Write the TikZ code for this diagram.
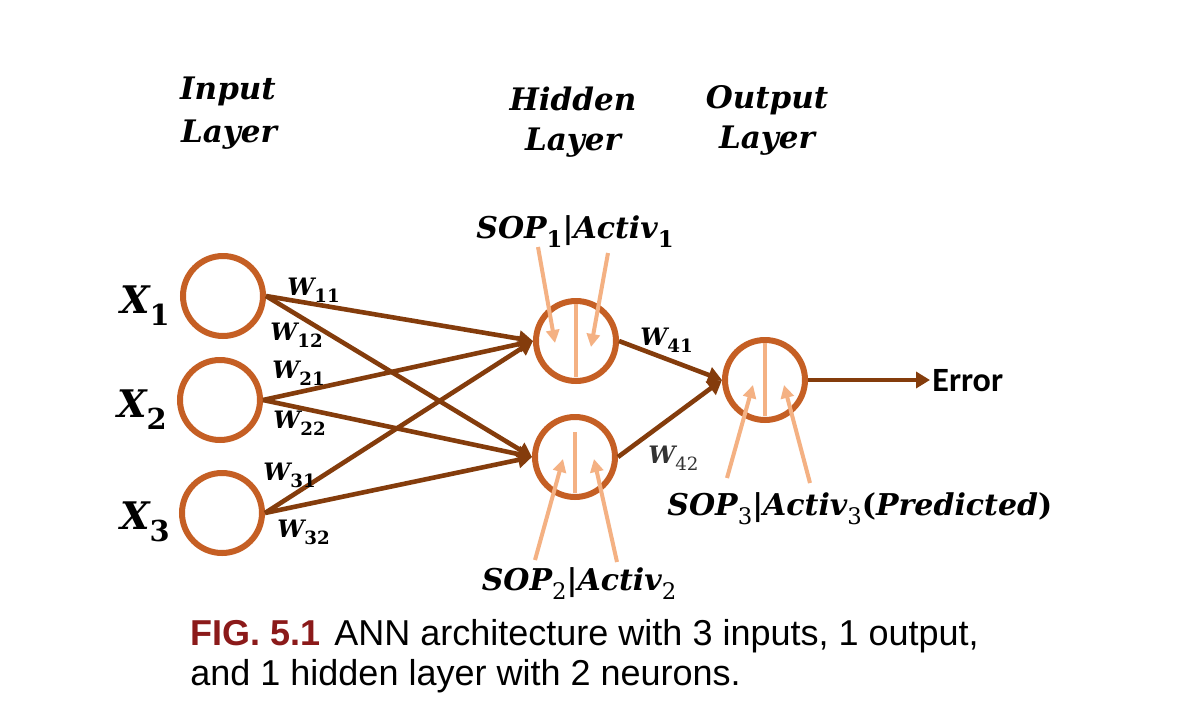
\documentclass[tikz,border=0pt]{standalone}
\usepackage{fontspec}
\setmainfont{Liberation Sans}
\newfontfamily\labfont{DejaVu Serif}
\newfontfamily\errfont{Carlito}
\usetikzlibrary{arrows.meta,calc}
\definecolor{ring}{HTML}{C55F24}
\definecolor{wire}{HTML}{843C0C}
\definecolor{soft}{HTML}{F4B183}
\definecolor{figred}{HTML}{8B1A1A}
\newcommand{\lsub}[1]{\raisebox{-0.33em}{\scalebox{0.76}{#1}}}
\begin{document}
\begin{tikzpicture}[x=0.5pt,y=-0.5pt,
  neuron/.style={circle, draw=ring, line width=3pt, minimum size=40pt, inner sep=0pt},
  wirearrow/.style={draw=wire, line width=2.3pt, -{Triangle[length=7pt,width=8pt]}},
  softarrow/.style={draw=soft, line width=2pt, -{Triangle[length=6.5pt,width=6.5pt]}},
  softline/.style={draw=soft, line width=2pt},
  ttl/.style={inner sep=0pt, font=\labfont\bfseries\itshape\fontsize{15.5}{18}\selectfont},
  xlab/.style={inner sep=0pt, font=\labfont\bfseries\itshape\fontsize{19}{22}\selectfont},
  wlab/.style={inner sep=0pt, font=\labfont\bfseries\itshape\fontsize{12}{14}\selectfont},
  soplab/.style={inner sep=0pt, font=\labfont\bfseries\itshape\fontsize{15}{18}\selectfont},
  caption/.style={inner sep=0pt, font=\fontsize{18}{22}\selectfont}]
\useasboundingbox[fill=white] (0,0) rectangle (1178,718);

% titles
\node[ttl, anchor=base] (t1a) at (228,99) {Input};
\node[ttl, anchor=base] (t1b) at (229,142) {Layer};
\node[ttl, anchor=base] (t2a) at (573,110) {Hidden};
\node[ttl, anchor=base] (t2b) at (573,150) {Layer};
\node[ttl, anchor=base] (t3a) at (767,108) {Output};
\node[ttl, anchor=base] (t3b) at (767,148) {Layer};

% neurons
\node[neuron] (x1) at (223,296) {};
\node[neuron] (x2) at (220,400) {};
\node[neuron] (x3) at (222,513) {};
\node[neuron] (h1) at (576,341) {};
\node[neuron] (h2) at (575,457) {};
\node[neuron] (o)  at (765,380) {};

% input labels
\node[xlab, anchor=base east] (lx1) at (170,313) {X\lsub{\upshape 1}};
\node[xlab, anchor=base east] (lx2) at (167,417) {X\lsub{\upshape 2}};
\node[xlab, anchor=base east] (lx3) at (170,529) {X\lsub{\upshape 3}};

% inner vertical lines
\draw[softline] ($(h1.center)+(0,-37)$) -- ($(h1.center)+(0,36)$);
\draw[softline] ($(h2.center)+(0,-25)$) -- ($(h2.center)+(0,36)$);
\draw[softline] ($(o.center)+(0,-37)$) -- ($(o.center)+(0,36)$);

% weighted connections
\draw[wirearrow] (x1.east) -- (h1.west);
\draw[wirearrow] (x1.east) -- (h2.west);
\draw[wirearrow] (x2.east) -- (h1.west);
\draw[wirearrow] (x2.east) -- (h2.west);
\draw[wirearrow] (x3.east) -- (h1.west);
\draw[wirearrow] (x3.east) -- (h2.west);
\draw[wirearrow] (h1.east) -- (o.west);
\draw[wirearrow] (h2.east) -- (o.west);

% error output
\coordinate (errtip) at (930,380);
\draw[wirearrow] (o.east) -- (errtip);
\node[inner sep=0pt, anchor=base west, font=\errfont\bfseries\fontsize{17}{20}\selectfont] (err) at (932,391) {Error};

% weight labels
\node[wlab, anchor=base west] (w11) at (287,295) {W\lsub{\upshape 11}};
\node[wlab, anchor=base west] (w12) at (270,340) {W\lsub{\upshape 12}};
\node[wlab, anchor=base west] (w21) at (272,378) {W\lsub{\upshape 21}};
\node[wlab, anchor=base west] (w22) at (273,428) {W\lsub{\upshape 22}};
\node[wlab, anchor=base west] (w31) at (263,480) {W\lsub{\upshape 31}};
\node[wlab, anchor=base west] (w32) at (277,537) {W\lsub{\upshape 32}};
\node[wlab, anchor=base west] (w41) at (640,345) {W\lsub{\upshape 41}};
\node[wlab, anchor=base west, text=black!80] (w42) at (648,463) {W\lsub{\upshape\mdseries 42}};

% SOP / activation arrows
\coordinate (a1l) at (538,247); \coordinate (b1l) at (555,343);
\coordinate (a1r) at (608,253); \coordinate (b1r) at (591,347);
\coordinate (a2l) at (535,560); \coordinate (b2l) at (563,459);
\coordinate (a2r) at (617,562); \coordinate (b2r) at (594,459);
\coordinate (a3l) at (727,478); \coordinate (b3l) at (753,385);
\coordinate (a3r) at (810,483); \coordinate (b3r) at (784,385);
\draw[softarrow] (a1l) -- (b1l);
\draw[softarrow] (a1r) -- (b1r);
\draw[softarrow] (a2l) -- (b2l);
\draw[softarrow] (a2r) -- (b2r);
\draw[softarrow] (a3l) -- (b3l);
\draw[softarrow] (a3r) -- (b3r);

\node[soplab, anchor=base] (sop1) at (575,238) {SOP\lsub{\upshape 1}\upshape|\itshape Activ\lsub{\upshape 1}};
\node[soplab, anchor=base] (sop2) at (579,590) {SOP\lsub{\upshape\mdseries 2}\upshape|\itshape Activ\lsub{\upshape\mdseries 2}};
\node[soplab, anchor=base west] (sop3) at (667,515) {SOP\lsub{\upshape\mdseries 3}\upshape|\itshape Activ\lsub{\upshape\mdseries 3}\upshape(\itshape Predicted\upshape)};

% caption
\node[caption, anchor=base west] (cap1) at (190,645) {{\color{figred}\bfseries FIG. 5.1}\hspace{7pt}ANN architecture with 3 inputs, 1 output,};
\node[caption, anchor=base west] (cap2) at (190,685) {and 1 hidden layer with 2 neurons.};
\end{tikzpicture}
\end{document}
